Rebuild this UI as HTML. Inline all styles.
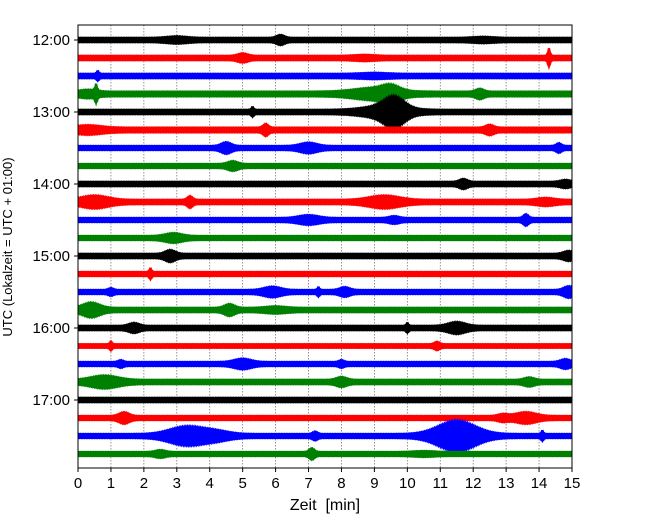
<!DOCTYPE html>
<html><head><meta charset="utf-8"><style>
body{margin:0;background:#fff}
svg{display:block;font-family:"Liberation Sans","DejaVu Sans",sans-serif}
</style></head><body>
<svg id="c" width="650" height="520"></svg>
<script>
const hourLabels=["12:00","13:00","14:00","15:00","16:00","17:00"];
const xTicks=[0,1,2,3,4,5,6,7,8,9,10,11,12,13,14,15];
const traceColors=["#000","#f00","#00f","#008000"];
const baseAmp=[3.2,3.2,3.2,3.4,3.2,3.4,3.0,3.0,3.2,3.2,3.0,3.0,3.2,3.0,3.0,3.2,3.2,2.8,3.0,3.2,3.2,3.0,3.0,3.0];
// events per trace: [minute, amplitude(px), sigma(min)]
const traceEvents=[
 [[3,1.5,0.3],[6.15,3,0.12],[12.3,1,0.3]],
 [[5,2.5,0.15],[14.3,8,0.04],[8.7,1,0.3]],
 [[0.6,3,0.04],[9,1,0.4]],
 [[0.3,2,0.25],[0.55,7,0.04],[9,4,0.6],[9.5,5,0.25],[12.2,3,0.12]],
 [[9.6,11,0.3],[9.3,4,0.6],[5.3,3,0.04]],
 [[0.3,2.5,0.4],[5.7,4,0.08],[12.5,3,0.12]],
 [[4.5,4,0.15],[7,3.5,0.25],[14.6,3,0.08]],
 [[4.7,3,0.15]],
 [[11.7,3,0.12],[14.8,2,0.15]],
 [[0.5,4.5,0.4],[3.4,4,0.08],[9.3,4.5,0.45],[14.2,2,0.25]],
 [[7,3,0.3],[9.6,2,0.15],[13.6,4,0.08]],
 [[2.9,3,0.25]],
 [[2.8,4,0.15],[14.9,3,0.15]],
 [[2.2,4,0.04]],
 [[1,2,0.08],[5.9,3.5,0.25],[8.1,3,0.15],[14.9,4,0.15],[7.3,3,0.04]],
 [[0.4,5.5,0.25],[4.6,4,0.15],[6,1.5,0.3]],
 [[1.7,3,0.15],[11.5,4,0.25],[10,3,0.04]],
 [[1,3,0.04],[10.9,2.5,0.08]],
 [[1.3,2,0.08],[5,3.5,0.25],[8,2,0.08],[14.8,3,0.15]],
 [[0.8,4.5,0.4],[8,3,0.15],[13.7,2.5,0.15]],
 [],
 [[1.4,4,0.15],[13.6,4,0.3],[12.9,2,0.15]],
 [[3.3,8,0.5],[11.5,14,0.55],[4.2,3,0.4],[7.2,2.5,0.08],[14.1,3.5,0.04]],
 [[2.5,2,0.15],[7.1,4,0.08],[10.5,1,0.3]]
];
const NS="http://www.w3.org/2000/svg";
const svg=document.getElementById('c');
const L=78,R=572,T=25,B=468,Y0=40,DY=18;
const xs=m=>L+(R-L)*m/15;
const ys=i=>Y0+DY*i;
function mk(t,a,p){const e=document.createElementNS(NS,t);for(const k in a)e.setAttribute(k,a[k]);(p||svg).appendChild(e);return e;}
xTicks.forEach(v=>{
 if(v>0&&v<15){const g=mk('line',{x1:xs(v),x2:xs(v),y1:T,y2:B,stroke:'#777','stroke-width':0.8,'stroke-dasharray':'1.5,1.5'});
 
 }
});
baseAmp.forEach((b,i)=>{
 const cy=ys(i);let up=[],dn=[];
 for(let k=0;k<=600;k++){
  const m=15*k/600;let a=b;
  traceEvents[i].forEach(ev=>{a+=ev[1]*Math.exp(-((m-ev[0])**2)/(2*ev[2]*ev[2]));});
  const w=(k%2?1:0.85);
  up.push(xs(m).toFixed(1)+','+(cy-a*w).toFixed(1));
  dn.unshift(xs(m).toFixed(1)+','+(cy+a*(k%2?0.85:1)).toFixed(1));
 }
 const p=mk('polygon',{points:up.concat(dn).join(' '),fill:traceColors[i%4],stroke:traceColors[i%4],'stroke-width':0.6});
 
 
});
const fr=mk('rect',{x:L,y:T,width:R-L,height:B-T,fill:'none',stroke:'#000','stroke-width':1});


xTicks.forEach(v=>{
 mk('line',{x1:xs(v),x2:xs(v),y1:B,y2:B+4,stroke:'#000'});
 const t=mk('text',{x:xs(v),y:B+20,'text-anchor':'middle','font-size':15});t.textContent=v;
 
 
});
hourLabels.forEach((h,j)=>{
 const y=ys(j*4);
 mk('line',{x1:L-4,x2:L,y1:y,y2:y,stroke:'#000'});
 const t=mk('text',{x:L-8,y:y+5,'text-anchor':'end','font-size':15});t.textContent=h;
 
 
});
const xl=mk('text',{x:325,y:510,'text-anchor':'middle','font-size':16,style:'white-space:pre'});xl.textContent='Zeit  [min]';


const yl=mk('text',{x:0,y:0,'text-anchor':'middle','font-size':13,transform:'translate(12,247) rotate(-90)'});yl.textContent='UTC (Lokalzeit = UTC + 01:00)';


</script>
</body></html>
